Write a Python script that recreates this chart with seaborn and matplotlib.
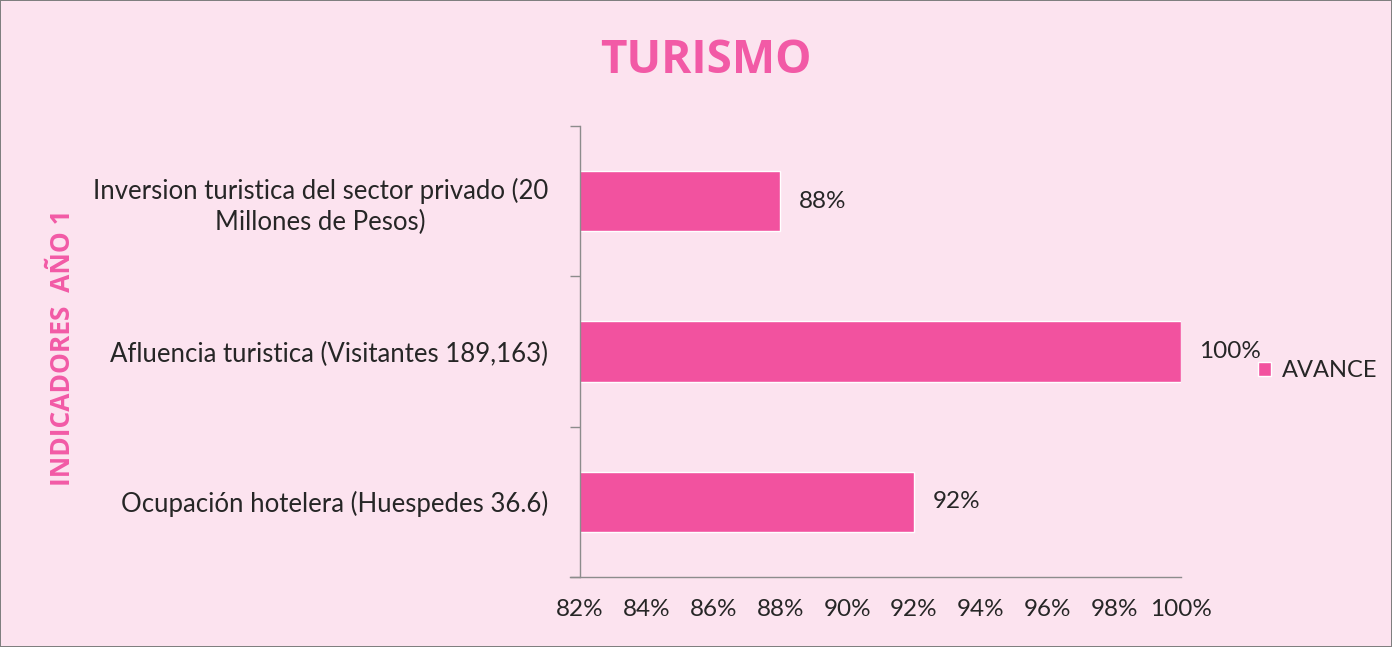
import matplotlib

matplotlib.use("Agg")

import matplotlib.pyplot as plt
import pandas as pd
import seaborn as sns
from matplotlib.patches import Patch
from matplotlib.ticker import FuncFormatter

# chart data
indicadores = [
    "Inversion turistica del sector privado (20\nMillones de Pesos)",
    "Afluencia turistica (Visitantes 189,163)",
    "Ocupación hotelera (Huespedes 36.6)",
]
avance = [88, 100, 92]
x_ticks = [82, 84, 86, 88, 90, 92, 94, 96, 98, 100]

BG = "#fce3ef"
PINK = "#f2529f"
TITLE_PINK = "#f25aa6"
TEXT = "#262626"

sns.set_theme(style="white")
plt.rcParams["font.family"] = ["Lato", "DejaVu Sans"]

df = pd.DataFrame({"indicador": indicadores, "avance": avance})

fig = plt.figure(figsize=(13.92, 6.47), dpi=100, facecolor=BG)
fig.patch.set_edgecolor("#7f7f7f")
fig.patch.set_linewidth(1.2)
ax = fig.add_axes([0.4167, 0.1082, 0.4317, 0.6971], facecolor=BG)

sns.barplot(data=df, x="avance", y="indicador", orient="h", color=PINK,
            width=0.4, saturation=1, ax=ax)

ax.set_xlim(82, 100)
ax.set_ylim(2.5, -0.5)
ax.set_xticks(x_ticks)
ax.xaxis.set_major_formatter(FuncFormatter(lambda v, _: f"{v:.0f}%"))
ax.tick_params(axis="x", bottom=False, length=0, pad=16, labelsize=17.5,
               labelcolor=TEXT)

# category ticks sit on the boundaries between bars
ax.set_yticks([-0.5, 0.5, 1.5, 2.5], minor=False)
ax.set_yticklabels([])
ax.set_yticks([0, 1, 2], minor=True)
ax.set_yticklabels(indicadores, minor=True)
ax.tick_params(axis="y", which="major", left=True, length=7, color="#8c8c8c",
               width=1)
ax.tick_params(axis="y", which="minor", left=True, length=0, pad=23,
               labelsize=18.5, labelcolor=TEXT)
for lbl in ax.get_yticklabels(minor=True):
    lbl.set_multialignment("center")
    lbl.set_linespacing(1.3)

for side in ["top", "right"]:
    ax.spines[side].set_visible(False)
for side in ["left", "bottom"]:
    ax.spines[side].set_color("#8c8c8c")
    ax.spines[side].set_linewidth(1)
ax.spines["bottom"].set_bounds(81.7, 100)

ax.set_xlabel("")
ax.set_ylabel("")

for i, v in enumerate(avance):
    ax.text(v + 0.55, i, f"{v}%", va="center", ha="left", fontsize=17.5,
            color=TEXT)

fig.text(0.507, 0.907, "TURISMO", ha="center", va="center", fontsize=33,
         fontweight="bold", color=TITLE_PINK, family=["Open Sans", "DejaVu Sans"])
fig.text(0.045, 0.462, "INDICADORES  AÑO 1", ha="center", va="center",
         rotation=90, fontsize=19, fontweight="bold", color=TITLE_PINK,
         family=["Open Sans", "DejaVu Sans"])

fig.legend(handles=[Patch(facecolor=PINK, label="AVANCE")],
           loc="center left", bbox_to_anchor=(0.904, 0.427), frameon=False,
           fontsize=17, handlelength=0.55, handleheight=0.55, handletextpad=0.45,
           borderpad=0, borderaxespad=0, labelcolor=TEXT)

fig.savefig("out.png", dpi=100, facecolor=BG, edgecolor=fig.get_edgecolor())
